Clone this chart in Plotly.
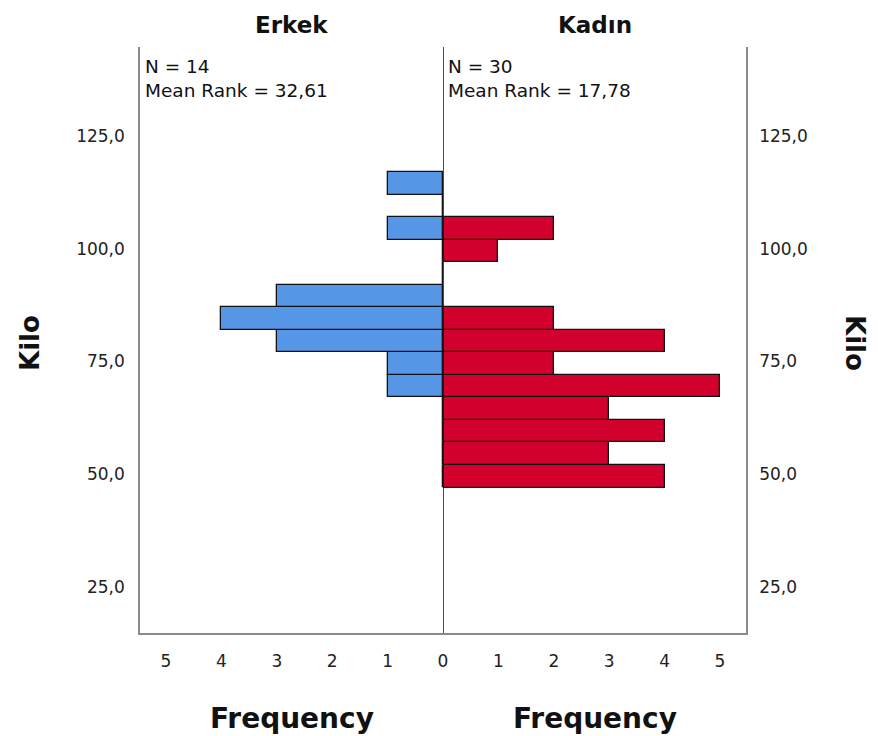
import plotly.graph_objects as go

# ---- data ----
bin_lower = [47, 52, 57, 62, 67, 72, 77, 82, 87, 92, 97, 102, 107, 112]
bin_width = 5
erkek_counts = [0, 0, 0, 0, 1, 1, 3, 4, 3, 0, 0, 1, 0, 1]
kadin_counts = [4, 3, 4, 3, 5, 2, 4, 2, 0, 0, 1, 2, 0, 0]
group_names = ["Erkek", "Kadın"]
group_n = [14, 30]
mean_rank = ["32,61", "17,78"]
y_ticks = [25, 50, 75, 100, 125]
y_tick_text = ["25,0", "50,0", "75,0", "100,0", "125,0"]
freq_ticks_left = [0, 1, 2, 3, 4, 5]
freq_ticks_right = [1, 2, 3, 4, 5]
y_range = [14.72, 144.74]
x_max = 5.47

centers = [b + bin_width / 2 for b in bin_lower]

W, H = 879, 736
ml, mr, mt, mb = 140, 133, 47, 103

FONT = "DejaVu Sans, Liberation Sans, Arial, sans-serif"
BLUE = "#5596E6"
RED = "#D2002D"
FRAME = "#8a8a8a"

fig = go.Figure()
fig.add_trace(go.Bar(
    x=erkek_counts, y=centers, orientation="h", width=bin_width,
    marker=dict(color=BLUE, line=dict(color="#111", width=1.3)),
    xaxis="x", yaxis="y", showlegend=False, hoverinfo="x+y"))
fig.add_trace(go.Bar(
    x=kadin_counts, y=centers, orientation="h", width=bin_width,
    marker=dict(color=RED, line=dict(color="#111", width=1.3)),
    xaxis="x2", yaxis="y2", showlegend=False, hoverinfo="x+y"))

axis_common = dict(showgrid=False, zeroline=False, ticks="",
                   tickfont=dict(family=FONT, size=17, color="#222"),
                   showline=True, linecolor=FRAME, linewidth=1.5)

fig.update_layout(
    width=W, height=H,
    margin=dict(l=ml, r=mr, t=mt, b=mb),
    paper_bgcolor="white", plot_bgcolor="white",
    bargap=0,
    xaxis=dict(domain=[0, 0.5], range=[x_max, 0], tickvals=freq_ticks_left,
               anchor="y", ticklabelstandoff=12, **axis_common),
    xaxis2=dict(domain=[0.5, 1], range=[0, x_max], tickvals=freq_ticks_right,
                anchor="y2", ticklabelstandoff=12, **axis_common),
    yaxis=dict(range=y_range, tickvals=y_ticks, ticktext=y_tick_text,
               anchor="x", side="left", ticklabelstandoff=10, **axis_common),
    yaxis2=dict(range=y_range, tickvals=y_ticks, ticktext=y_tick_text,
                anchor="x2", side="right", ticklabelstandoff=8, **axis_common),
)

# center line
fig.add_shape(type="line", xref="x2", yref="paper", x0=0, x1=0, y0=0, y1=1,
              line=dict(color="#111", width=1.5))

pw = W - ml - mr
ph = H - mt - mb


def px_x(p):
    return (p - ml) / pw


def px_y(p):
    return 1 - (p - mt) / ph


anns = []
for i, name in enumerate(group_names):
    anns.append(dict(text=f"<b>{name}</b>", x=0.25 + 0.5 * i, y=px_y(25),
                     xref="paper", yref="paper", xanchor="center", yanchor="middle",
                     showarrow=False, font=dict(family=FONT, size=23, color="#111")))
    anns.append(dict(text=f"N = {group_n[i]}<br>Mean Rank = {mean_rank[i]}",
                     x=px_x(143 + 303 * i), y=px_y(54), xref="paper", yref="paper",
                     xanchor="left", yanchor="top", align="left", showarrow=False,
                     font=dict(family=FONT, size=18.5, color="#111")))
    anns.append(dict(text="<b>Frequency</b>", x=0.25 + 0.5 * i, y=px_y(718),
                     xref="paper", yref="paper", xanchor="center", yanchor="middle",
                     showarrow=False, font=dict(family=FONT, size=28, color="#111")))
anns.append(dict(text="<b>Kilo</b>", x=px_x(30), y=px_y(343), xref="paper", yref="paper",
                 xanchor="center", yanchor="middle", textangle=-90, showarrow=False,
                 font=dict(family=FONT, size=26, color="#111")))
anns.append(dict(text="<b>Kilo</b>", x=px_x(855), y=px_y(343), xref="paper", yref="paper",
                 xanchor="center", yanchor="middle", textangle=90, showarrow=False,
                 font=dict(family=FONT, size=26, color="#111")))
fig.update_layout(annotations=anns)

fig.write_html("out.html")
